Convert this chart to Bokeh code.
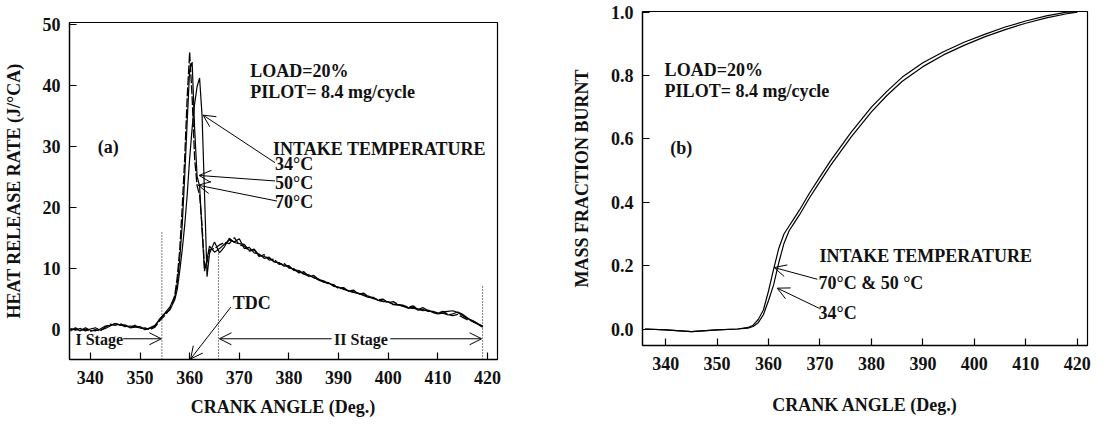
from bokeh.plotting import figure
from bokeh.layouts import row, column
from bokeh.models import Range1d, FixedTicker, Label, Arrow, OpenHead, PrintfTickFormatter
from bokeh.embed import file_html
from bokeh.resources import INLINE

FONT = "Liberation Serif"

# ---------------- data: panel (a) heat release rate ----------------
angle_hrr = ([float(a) for a in range(336, 358)]
             + [357.5, 358, 358.5, 359, 359.5, 360, 360.5, 361, 361.5, 362, 362.5, 363, 363.5, 364]
             + [float(a) for a in range(365, 420)])

hrr_70 = [-0.3, 0.2, -0.2, 0.0, -0.4, -0.1, -0.3, 0.3, 0.8, 0.6, 0.9, 0.5, 0.3, 0.6, 0.1, 0.2, -0.1, 0.3, 1.4, 2.2, 3.3, 5.5,
          8.5, 13, 20, 28, 38, 45.4, 38, 28, 23.5, 22, 17, 10, 11, 13,
          13.2, 13.8, 14.2, 14.0, 15.0, 13.8, 13.6, 12.8, 13.0, 11.9, 12.2, 11.3, 11.5, 10.6, 10.8, 10.0, 9.9, 9.2, 9.4,
          8.6, 8.8, 8.1, 7.9, 7.4, 7.3, 6.6, 6.8, 6.2, 6.4, 5.7, 5.9, 5.3, 5.0, 4.8, 4.9, 4.3, 4.5, 4.0, 3.9, 3.6, 3.8,
          3.2, 3.5, 3.0, 2.8, 2.6, 2.9, 2.4, 2.2, 2.4, 1.9, 1.5, 1.3, 0.9, 0.4]

hrr_50 = [-0.1, 0.0, -0.3, 0.2, -0.2, -0.3, 0.0, 0.5, 0.6, 0.9, 0.7, 0.4, 0.5, 0.4, 0.2, 0.0, 0.1, 0.5, 1.7, 2.6, 3.6, 5.2,
          7.5, 11.5, 17, 25, 34, 42.5, 43.8, 33, 25, 23.5, 16, 9.5, 11.5, 13.6,
          12.6, 13.2, 13.9, 14.6, 14.3, 14.8, 13.2, 13.4, 12.5, 12.3, 11.6, 11.8, 11.0, 10.9, 10.3, 10.4, 9.6, 9.5, 9.0,
          8.7, 8.5, 8.0, 7.7, 7.6, 7.0, 6.9, 6.5, 6.3, 6.1, 5.8, 5.6, 5.4, 5.1, 4.7, 4.6, 4.4, 4.1, 4.0, 3.7, 3.5, 3.4,
          3.3, 3.0, 3.1, 2.7, 2.5, 2.6, 2.3, 2.5, 2.8, 2.4, 1.8, 1.2, 0.8, 0.3]

hrr_34 = [0.1, -0.2, 0.1, -0.3, 0.0, 0.2, -0.2, 0.1, 0.5, 0.9, 0.6, 0.7, 0.2, 0.3, 0.4, -0.1, 0.2, 0.6, 1.6, 2.5, 3.1, 4.8,
          6.5, 9.5, 13, 17, 22, 28, 33, 37, 39.8, 41.2, 35, 22, 8.6, 12.4,
          14.3, 12.5, 13.5, 14.9, 14.2, 14.0, 13.9, 12.9, 13.1, 12.1, 11.9, 11.6, 11.1, 10.8, 10.5, 10.2, 9.7, 9.6, 9.1,
          8.9, 8.4, 8.2, 7.7, 7.5, 7.1, 6.8, 6.7, 6.2, 6.0, 5.9, 5.5, 5.2, 5.2, 4.7, 4.5, 4.5, 4.0, 3.9, 3.8, 3.4, 3.6,
          3.1, 3.2, 2.9, 2.9, 2.6, 2.8, 2.9, 3.0, 2.7, 2.2, 1.7, 1.4, 0.9, 0.5]

stage_bounds = [354.4, 365.8, 419.0]
stage_tops = [16.0, 12.5, 7.0]

# ---------------- data: panel (b) mass fraction burnt ----------------
angle_mfb = [336, 340, 345, 350, 354, 356, 357, 358, 359, 360, 361, 362, 363, 364, 365, 366, 368, 370, 372, 374,
             376, 378, 380, 383, 386, 390, 394, 398, 402, 406, 410, 414, 418, 420]
mfb_70_50 = [0.0, -0.003, -0.008, -0.003, 0.0, 0.005, 0.012, 0.03, 0.06, 0.12, 0.19, 0.255, 0.3, 0.325, 0.35, 0.375,
             0.43, 0.48, 0.53, 0.575, 0.62, 0.66, 0.70, 0.75, 0.795, 0.84, 0.875, 0.905, 0.93, 0.953, 0.972, 0.988,
             1.0, 1.0]
mfb_34 = [0.0, -0.003, -0.008, -0.003, 0.0, 0.003, 0.008, 0.02, 0.045, 0.09, 0.14, 0.21, 0.27, 0.31, 0.335, 0.36,
          0.415, 0.465, 0.515, 0.56, 0.605, 0.645, 0.685, 0.737, 0.782, 0.828, 0.865, 0.895, 0.922, 0.945, 0.965,
          0.982, 0.995, 1.0]

x_ticks = [340, 350, 360, 370, 380, 390, 400, 410, 420]
hrr_ticks = [0, 10, 20, 30, 40, 50]
mfb_ticks = [0.0, 0.2, 0.4, 0.6, 0.8, 1.0]


def style(p, yticks, xlabel, ylabel, x_label_standoff):
    p.xgrid.visible = False
    p.ygrid.visible = False
    p.outline_line_color = "black"
    p.outline_line_width = 1.2
    p.background_fill_color = "white"
    p.border_fill_color = "white"
    p.xaxis.ticker = FixedTicker(ticks=x_ticks)
    p.yaxis.ticker = FixedTicker(ticks=yticks)
    for ax in (p.xaxis[0], p.yaxis[0]):
        ax.axis_line_color = "black"
        ax.axis_line_width = 1.3
        ax.major_tick_in = 7
        ax.major_tick_out = 0
        ax.major_tick_line_color = "black"
        ax.major_tick_line_width = 1.2
        ax.minor_tick_line_color = None
        ax.major_label_text_font = FONT
        ax.major_label_text_font_style = "bold"
        ax.major_label_text_font_size = "18px"
        ax.major_label_text_color = "#111111"
        ax.axis_label_text_font = FONT
        ax.axis_label_text_font_style = "bold"
        ax.axis_label_text_font_size = "18px"
        ax.axis_label_text_color = "#111111"
    p.xaxis.axis_label = xlabel
    p.yaxis.axis_label = ylabel
    p.xaxis.major_label_standoff = 11
    p.yaxis.major_label_standoff = 9
    p.xaxis.axis_label_standoff = x_label_standoff
    p.yaxis.axis_label_standoff = 16


def label(p, x, y, text, size="18px", align="left"):
    p.add_layout(Label(x=x, y=y, text=text, text_font=FONT, text_font_style="bold",
                       text_font_size=size, text_baseline="middle", text_align=align,
                       text_color="#111111"))


def arrow(p, x0, y0, x1, y1, size=12):
    p.add_layout(Arrow(end=OpenHead(size=size, line_width=1, line_color="black"),
                       x_start=x0, y_start=y0, x_end=x1, y_end=y1,
                       line_width=1, line_color="black"))


# ---------------- panel (a) ----------------
p1 = figure(width=537, height=420, output_backend="svg", toolbar_location=None,
            x_range=Range1d(335.8, 422.0), y_range=Range1d(-5.0, 50.3),
            min_border_left=64, min_border_right=40, min_border_top=22, min_border_bottom=61)
style(p1, hrr_ticks, "CRANK ANGLE (Deg.)", "HEAT RELEASE RATE (J/\u00b0CA)", 10)

p1.line(angle_hrr, hrr_34, line_color="black", line_width=1.2)
p1.line(angle_hrr, hrr_50, line_color="black", line_width=1.2)
p1.line(angle_hrr, hrr_70, line_color="black", line_width=1.3, line_dash="9 2")
p1.segment(x0=stage_bounds, y0=[-5.0] * 3, x1=stage_bounds, y1=stage_tops,
           line_color="black", line_width=1, line_dash="1 2")

label(p1, 372.2, 42.3, "LOAD=20%")
label(p1, 372.2, 38.9, "PILOT= 8.4 mg/cycle")
label(p1, 341.5, 29.8, "(a)")
label(p1, 376.8, 29.6, "INTAKE TEMPERATURE")
label(p1, 377.2, 27.0, "34\u00b0C")
label(p1, 377.2, 23.9, "50\u00b0C")
label(p1, 377.2, 20.9, "70\u00b0C")
label(p1, 368.7, 4.3, "TDC")
label(p1, 337.0, -1.8, "I Stage", size="16px")
label(p1, 394.5, -1.8, "II Stage", size="16px", align="center")

arrow(p1, 377.2, 27.3, 362.7, 35.1)
arrow(p1, 377.2, 24.3, 361.9, 25.2)
arrow(p1, 377.6, 21.0, 361.7, 23.6)
arrow(p1, 368.3, 3.6, 360.2, -4.9)
arrow(p1, 346.6, -1.6, 354.3, -1.6)
arrow(p1, 388.6, -1.6, 366.0, -1.6)
arrow(p1, 400.4, -1.6, 418.8, -1.6)

# ---------------- panel (b) ----------------
p2 = figure(width=554, height=420, output_backend="svg", toolbar_location=None,
            x_range=Range1d(335.5, 422.0), y_range=Range1d(-0.052, 1.002),
            min_border_left=105, min_border_right=4, min_border_top=11, min_border_bottom=75)
style(p2, mfb_ticks, "CRANK ANGLE (Deg.)", "MASS FRACTION BURNT", 22)
p2.yaxis.formatter = PrintfTickFormatter(format="%.1f")

p2.line(angle_mfb, mfb_70_50, line_color="black", line_width=1.2)
p2.line(angle_mfb, mfb_34, line_color="black", line_width=1.2)

label(p2, 339.8, 0.818, "LOAD=20%")
label(p2, 339.8, 0.751, "PILOT= 8.4 mg/cycle")
label(p2, 340.9, 0.572, "(b)")
label(p2, 369.9, 0.231, "INTAKE TEMPERATURE")
label(p2, 369.7, 0.145, "70\u00b0C & 50 \u00b0C")
label(p2, 369.7, 0.049, "34\u00b0C")

arrow(p2, 369.5, 0.157, 361.1, 0.194)
arrow(p2, 369.9, 0.065, 361.7, 0.129)

layout = row(column(p1), column(p2))
open("out.html", "w").write(file_html(layout, INLINE))
